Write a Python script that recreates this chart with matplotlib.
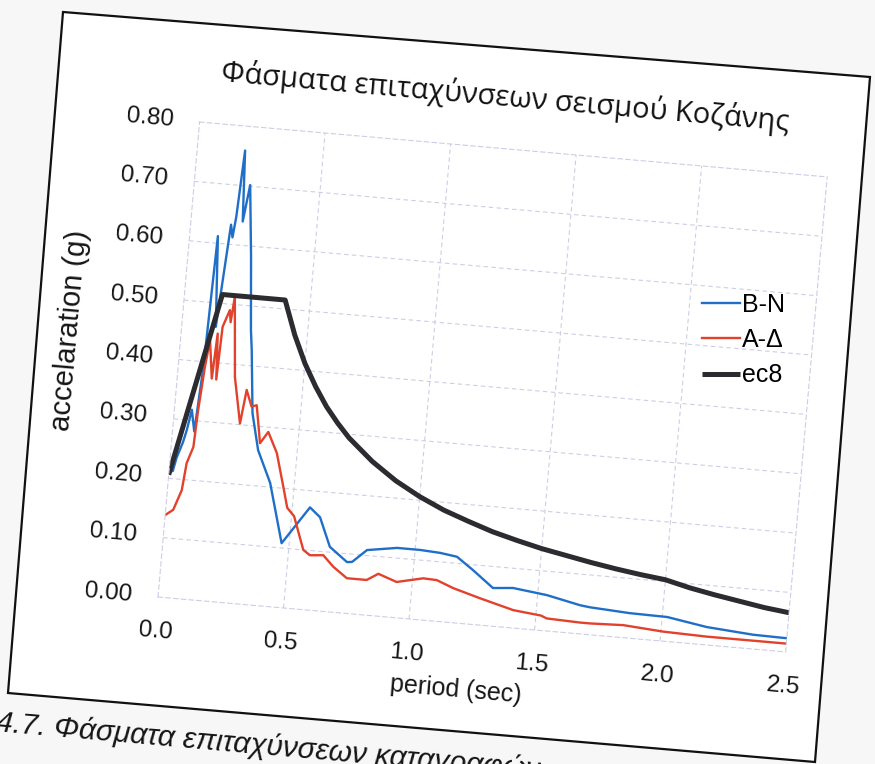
import matplotlib
matplotlib.use("Agg")
import matplotlib.pyplot as plt
from matplotlib.transforms import Affine2D
from matplotlib.patches import Polygon
import mpl_toolkits.axisartist.floating_axes as floating_axes
from mpl_toolkits.axisartist.grid_finder import FixedLocator, DictFormatter

# B-N component (blue)
bn_period = [0.000, 0.015, 0.025, 0.045, 0.056, 0.069, 0.086, 0.100, 0.106, 0.112,
             0.135, 0.160, 0.170, 0.178, 0.190, 0.205, 0.222, 0.250, 0.275, 0.285,
             0.310, 0.345, 0.404, 0.470, 0.570, 0.613, 0.662, 0.735, 0.755, 0.810,
             0.928, 1.019, 1.100, 1.168, 1.236, 1.321, 1.400, 1.537, 1.671, 1.710,
             1.870, 2.020, 2.180, 2.365, 2.500]
bn_acc = [0.210, 0.213, 0.235, 0.262, 0.283, 0.318, 0.282, 0.391, 0.504, 0.612,
          0.460, 0.633, 0.612, 0.647, 0.759, 0.640, 0.702, 0.583, 0.460, 0.427,
          0.321, 0.260, 0.207, 0.108, 0.172, 0.157, 0.109, 0.086, 0.087, 0.109,
          0.117, 0.117, 0.115, 0.111, 0.091, 0.064, 0.067, 0.060, 0.048, 0.046,
          0.042, 0.041, 0.030, 0.024, 0.023]

# A-Δ component (red)
ad_period = [0.000, 0.030, 0.057, 0.067, 0.088, 0.094, 0.106, 0.117, 0.137, 0.145,
             0.155, 0.162, 0.185, 0.192, 0.200, 0.228, 0.264, 0.279, 0.304, 0.324,
             0.350, 0.379, 0.420, 0.457, 0.480, 0.510, 0.558, 0.586, 0.639, 0.683,
             0.740, 0.819, 0.863, 0.938, 1.042, 1.096, 1.164, 1.273, 1.409, 1.520,
             1.544, 1.677, 1.717, 1.849, 2.010, 2.183, 2.500]
ad_acc = [0.138, 0.148, 0.182, 0.228, 0.256, 0.318, 0.392, 0.437, 0.373, 0.449,
          0.372, 0.461, 0.490, 0.470, 0.513, 0.379, 0.302, 0.359, 0.332, 0.335,
          0.272, 0.292, 0.258, 0.203, 0.168, 0.155, 0.100, 0.092, 0.094, 0.076,
          0.059, 0.059, 0.071, 0.060, 0.070, 0.069, 0.058, 0.045, 0.030, 0.025,
          0.021, 0.019, 0.019, 0.021, 0.016, 0.014, 0.014]

# EC8 design spectrum
ec8_period = [0.00, 0.15, 0.40, 0.45, 0.50, 0.55, 0.60, 0.65, 0.70, 0.80, 0.90,
              1.00, 1.10, 1.20, 1.30, 1.40, 1.50, 1.60, 1.70, 1.80, 1.90, 2.00,
              2.10, 2.20, 2.30, 2.40, 2.50]
ec8_acc = [0.206, 0.515, 0.515, 0.458, 0.412, 0.375, 0.343, 0.317, 0.294, 0.258,
           0.229, 0.206, 0.187, 0.172, 0.158, 0.147, 0.137, 0.129, 0.121, 0.114,
           0.108, 0.103, 0.093, 0.085, 0.078, 0.071, 0.066]

x_ticks = [0.0, 0.5, 1.0, 1.5, 2.0, 2.5]
x_labels = ["0.0", "0.5", "1.0", "1.5", "2.0", "2.5"]
y_ticks = [0.0, 0.1, 0.2, 0.3, 0.4, 0.5, 0.6, 0.7, 0.8]
y_labels = ["0.00", "0.10", "0.20", "0.30", "0.40", "0.50", "0.60", "0.70", "0.80"]

W, H = 875, 764
plt.rcParams["font.family"] = ["Liberation Sans", "DejaVu Sans"]

fig = plt.figure(figsize=(W / 100, H / 100), dpi=100)
fig.patch.set_facecolor("#f7f7f7")

# the scanned page is tilted a little, so the whole chart is rotated
tilt = -5
px_per_sec = 252
px_per_g = 596
ox, oy = 158, 597   # plot origin in image pixels
grid_col = "#cdcde6"
txt_col = "#151515"

tr = Affine2D().scale(px_per_sec, px_per_g).rotate_deg(tilt)
grid_helper = floating_axes.GridHelperCurveLinear(
    tr, extremes=(0, 2.5, 0, 0.8),
    grid_locator1=FixedLocator(x_ticks),
    grid_locator2=FixedLocator(y_ticks),
    tick_formatter1=DictFormatter(dict(zip(x_ticks, x_labels))),
    tick_formatter2=DictFormatter(dict(zip(y_ticks, y_labels))))

corners = tr.transform([(0, 0), (2.5, 0), (2.5, 0.8), (0, 0.8)])
xmin, ymin = corners.min(axis=0)
xmax, ymax = corners.max(axis=0)
bw, bh = (xmax - xmin) * 1.02, (ymax - ymin) * 1.02
cx = ox + (xmin + xmax) / 2
cy = (H - oy) + (ymin + ymax) / 2

# page frame of the scan
frame = [(63, 12), (870, 77), (815, 762), (8, 693)]
fig.add_artist(Polygon([(x / W, 1 - y / H) for x, y in frame], closed=True,
                       transform=fig.transFigure, facecolor="white",
                       edgecolor="#111111", lw=1.6, zorder=-5))

ax = fig.add_axes([(cx - bw / 2) / W, (cy - bh / 2) / H, bw / W, bh / H],
                  axes_class=floating_axes.FloatingAxes, grid_helper=grid_helper)
ax.patch.set_facecolor("white")
ax.grid(True, color=grid_col, linestyle=(0, (4, 3)), linewidth=0.8)

# plot edges look like the dashed grid
for side in ["bottom", "left", "top", "right"]:
    ax.axis[side].line.set_edgecolor(grid_col)
    ax.axis[side].line.set_linestyle((0, (4, 3)))
    ax.axis[side].line.set_linewidth(0.8)
    ax.axis[side].major_ticks.set_visible(False)
    ax.axis[side].major_ticks.set_ticksize(0)
    ax.axis[side].label.set_visible(False)

ax.axis["bottom"].major_ticklabels.set(fontsize=17.5, color=txt_col)
ax.axis["bottom"].major_ticklabels.set_pad(17)
ax.axis["left"].major_ticklabels.set(fontsize=17.5, color=txt_col)
ax.axis["left"].major_ticklabels.set_pad(19)

aux = ax.get_aux_axes(tr)
aux.patch = ax.patch
ax.patch.zorder = 0.9

l1, = aux.plot(bn_period, bn_acc, color="#1f6fc8", lw=1.7)
l2, = aux.plot(ad_period, ad_acc, color="#e2412c", lw=1.7)
l3, = aux.plot(ec8_period, ec8_acc, color="#2b2b30", lw=3.6, solid_capstyle="butt")

aux.text(1.2, 0.886, "Φάσματα επιταχύνσεων σεισμού Κοζάνης", rotation=tilt,
         rotation_mode="anchor", ha="center", va="center", fontsize=21,
         family=["Open Sans", "DejaVu Sans"], color="#111111")
aux.text(1.21, -0.112, "period (sec)", rotation=tilt, rotation_mode="anchor",
         ha="center", va="center", fontsize=18, color=txt_col)
aux.text(-0.44, 0.433, "accelaration (g)", rotation=90 + tilt, rotation_mode="anchor",
         ha="center", va="center", fontsize=21, color=txt_col)

fig.legend([l1, l2, l3], ["B-N", "A-Δ", "ec8"], loc="upper left",
           bbox_to_anchor=(702 / W, 1 - 293 / H), frameon=False, fontsize=18,
           handlelength=1.5, handletextpad=0.1, labelspacing=0.45,
           borderpad=0, borderaxespad=0)

fig.text(-4 / W, 1 - 731 / H, "4.7. Φάσματα επιταχύνσεων καταγραφών",
         rotation=tilt, rotation_mode="anchor", ha="left", va="baseline",
         fontsize=21.5, style="italic", color=txt_col)

fig.savefig("out.png", dpi=100, facecolor=fig.get_facecolor())
